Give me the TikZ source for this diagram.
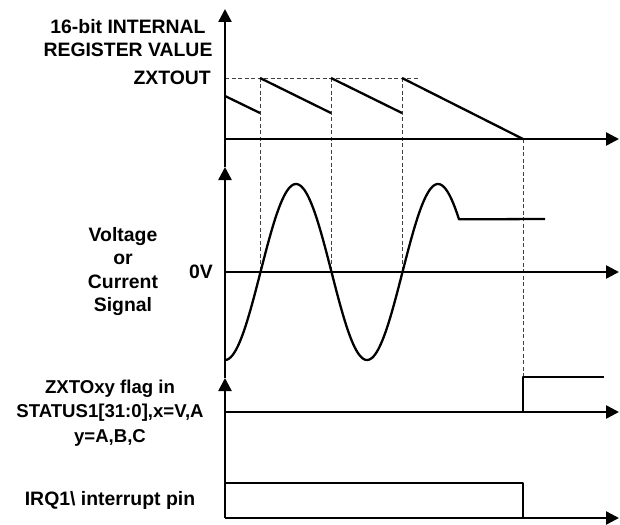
\documentclass[tikz,border=0pt]{standalone}
\usepackage{fontspec}
\setmainfont{Liberation Sans}
\usetikzlibrary{arrows.meta}
\begin{document}
\begin{tikzpicture}[x=1pt,y=-1pt,
  axis/.style={line width=2.4pt,-{Triangle[length=13pt,width=13pt]}},
  wave/.style={line width=2.3pt,line join=round},
  guide/.style={line width=0.9pt,dash pattern=on 4pt off 2.5pt,black!75},
  lbl/.style={inner sep=0pt,align=center,font=\bfseries\fontsize{19.4}{22.5}\selectfont}]
\useasboundingbox (0,0) rectangle (620,524);
% coordinates
\coordinate (o1) at (225,139);
\coordinate (o2) at (225,272);
\coordinate (o3) at (225,412);
\coordinate (o4) at (225,518);
\coordinate (t1) at (225,9);
\coordinate (t2) at (225,167);
\coordinate (t3) at (225,378);
\coordinate (e1) at (619,139);
\coordinate (e2) at (619,272);
\coordinate (e3) at (619,412);
\coordinate (e4) at (619,518);
% guides
\draw[guide] (225,78) -- (418,78);
\foreach \xx in {260,331,402} \draw[guide] (\xx,78) -- (\xx,272);
\draw[guide] (523,139) -- (523,377);
% axes
\draw[axis] (o4) -- (t3);
\draw[axis] (t3) -- (t2);
\draw[axis] (t2) -- (t1);
\draw[axis] (o1) -- (e1);
\draw[axis] (o2) -- (e2);
\draw[axis] (o3) -- (e3);
\draw[axis] (o4) -- (e4);
% sawtooth
\draw[wave] (225,96) -- (260,113);
\draw[wave] (260,78) -- (331,113);
\draw[wave] (331,78) -- (402,113);
\draw[wave] (402,78) -- (523,139);
% signal
\draw[wave] plot[domain=225:459,samples=160,smooth] (\x,{272+88*cos(2.5352*(\x-225))}) -- (545,219);
% flag
\draw[wave] (523,412) -- (523,377) -- (604,377);
% IRQ
\draw[wave] (225,483) -- (523,483) -- (523,518);
% labels
\node[lbl] (regl) at (128,38) {16-bit INTERNAL\\REGISTER VALUE};
\node[lbl,anchor=east] (zxl) at (211,78) {ZXTOUT};
\node[lbl,font=\bfseries\fontsize{19.4}{23.6}\selectfont] (sigl) at (123,271.5) {Voltage\\or\\Current\\Signal};
\node[lbl,anchor=east] (zvl) at (213,272) {0V};
\node[lbl,font=\bfseries\fontsize{18.6}{24.5}\selectfont] (flgl) at (110,413) {ZXTOxy flag in\\STATUS1[31:0],x=V,A\\y=A,B,C};
\node[lbl] (irql) at (110,500) {IRQ1\textbackslash{} interrupt pin};
\end{tikzpicture}
\end{document}
